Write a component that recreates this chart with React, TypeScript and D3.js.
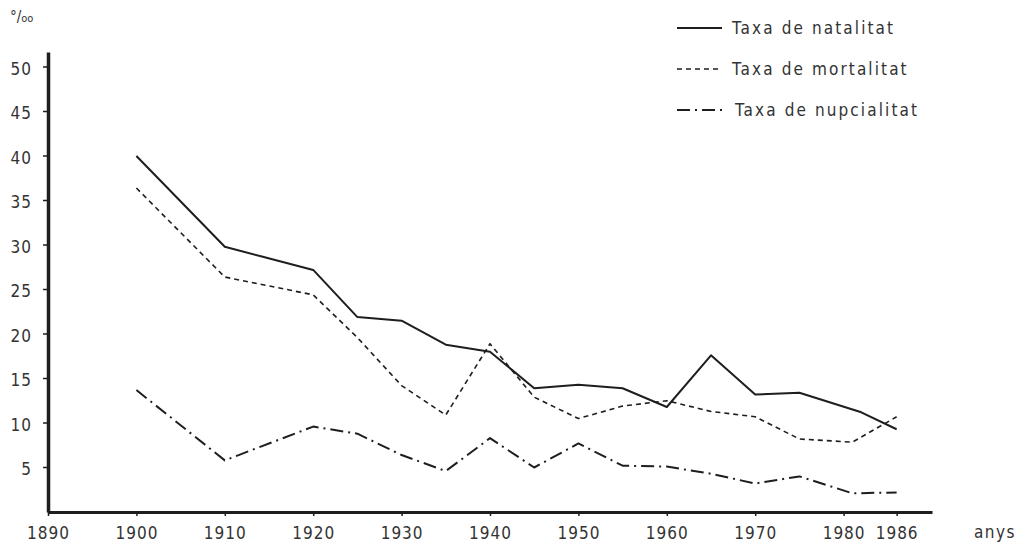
import React, { useRef, useEffect } from 'react';
import * as d3 from 'd3';

// Taxes demogràfiques (per mil), llegides del gràfic original
const natalitatAnys = [1900, 1910, 1920, 1925, 1930, 1935, 1940, 1945, 1950, 1955, 1960, 1965, 1970, 1975, 1982, 1986];
const natalitat = [40.0, 29.8, 27.2, 21.9, 21.5, 18.8, 18.0, 13.9, 14.3, 13.9, 11.8, 17.6, 13.2, 13.4, 11.2, 9.3];

const mortalitatAnys = [1900, 1910, 1920, 1925, 1930, 1935, 1940, 1945, 1950, 1955, 1960, 1965, 1970, 1975, 1981, 1986];
const mortalitat = [36.4, 26.4, 24.4, 19.6, 14.2, 10.9, 18.9, 12.9, 10.5, 11.9, 12.5, 11.3, 10.7, 8.2, 7.85, 10.7];

const nupcialitatAnys = [1900, 1910, 1920, 1925, 1930, 1935, 1940, 1945, 1950, 1955, 1960, 1965, 1970, 1975, 1981, 1986];
const nupcialitat = [13.7, 5.8, 9.6, 8.8, 6.4, 4.6, 8.3, 5.0, 7.7, 5.2, 5.1, 4.3, 3.2, 4.0, 2.1, 2.2];

const xTicks = [1890, 1900, 1910, 1920, 1930, 1940, 1950, 1960, 1970, 1980, 1986];
const yTicks = [5, 10, 15, 20, 25, 30, 35, 40, 45, 50];

const legendLabels = ['Taxa de natalitat', 'Taxa de mortalitat', 'Taxa de nupcialitat'];

const WIDTH = 1022;
const HEIGHT = 549;
const FONT = '"DejaVu Sans Condensed", "DejaVu Sans", sans-serif';
const INK = '#1e1e1e';
const TEXT = '#333';

const App: React.FC = () => {
    const svgRef = useRef<SVGSVGElement>(null);

    useEffect(() => {
        const svg = d3.select(svgRef.current);
        svg.selectAll('*').remove();

        const x = d3.scaleLinear().domain([1890, 1990]).range([48, 932]);
        const y = d3.scaleLinear().domain([0, 50]).range([512, 67]);

        // x axis
        const xAxis = svg.append('g')
            .attr('transform', `translate(0,${y(0)})`)
            .call(d3.axisBottom(x).tickValues(xTicks).tickFormat(d3.format('d')).tickSize(4).tickSizeOuter(0).tickPadding(11));
        xAxis.select('.domain').attr('stroke', INK).attr('stroke-width', 3);

        // y axis, goes a bit over 50
        const yAxis = svg.append('g')
            .attr('transform', `translate(${x(1890)},0)`)
            .call(d3.axisLeft(y.copy().domain([0, 51.7]).range([512, 52])).tickValues([]).tickSizeOuter(0));
        yAxis.select('.domain').attr('stroke', INK).attr('stroke-width', 3.5);
        yAxis.call((g) => {
            const t = g.selectAll('.ytick').data(yTicks).enter().append('g')
                .attr('class', 'ytick')
                .attr('transform', (d) => `translate(0,${y(d)})`);
            t.append('line').attr('x1', -5).attr('x2', 0).attr('stroke', INK).attr('stroke-width', 1.5);
            t.append('text')
                .attr('x', -16)
                .attr('dy', '0.45em')
                .attr('text-anchor', 'end')
                .text((d) => d);
        });

        svg.selectAll('.tick line').attr('stroke', INK).attr('stroke-width', 1.5);
        svg.selectAll('text')
            .attr('font-family', FONT)
            .attr('font-size', 17)
            .attr('letter-spacing', 1)
            .attr('fill', TEXT);

        // series lines
        const line = d3.line<[number, number]>()
            .x((d) => x(d[0]))
            .y((d) => y(d[1]));

        const series = [
            { years: natalitatAnys, values: natalitat, dash: null, width: 2 },
            { years: mortalitatAnys, values: mortalitat, dash: '5,4', width: 1.6 },
            { years: nupcialitatAnys, values: nupcialitat, dash: '13,5,2,5', width: 2 },
        ];

        series.forEach((s) => {
            const pts: [number, number][] = s.years.map((yr, i) => [yr, s.values[i]]);
            svg.append('path')
                .datum(pts)
                .attr('fill', 'none')
                .attr('stroke', INK)
                .attr('stroke-width', s.width)
                .attr('stroke-linejoin', 'round')
                .attr('stroke-dasharray', s.dash)
                .attr('d', line);
        });

        // legend
        const legend = svg.append('g').attr('transform', 'translate(677,28)');
        legendLabels.forEach((label, i) => {
            const row = legend.append('g').attr('transform', `translate(0,${i * 41})`);
            row.append('line')
                .attr('x1', 0).attr('x2', 45)
                .attr('stroke', INK)
                .attr('stroke-width', series[i].width)
                .attr('stroke-dasharray', series[i].dash);
            row.append('text')
                .attr('x', i === 2 ? 58 : 55)
                .attr('dy', '0.35em')
                .attr('font-family', FONT)
                .attr('font-size', 17)
                .attr('letter-spacing', 2.1)
                .attr('fill', TEXT)
                .text(label);
        });

        // per mil label
        const pm = svg.append('text')
            .attr('x', 10)
            .attr('y', 22)
            .attr('font-family', FONT)
            .attr('font-size', 15)
            .attr('fill', TEXT);
        pm.append('tspan').text('°/');
        pm.append('tspan').attr('font-size', 11).text('oo');

        svg.append('text')
            .attr('x', 974)
            .attr('y', 538)
            .attr('font-family', FONT)
            .attr('font-size', 17)
            .attr('letter-spacing', 1.5)
            .attr('fill', TEXT)
            .text('anys');
    }, []);

    return (
        <svg
            ref={svgRef}
            width={WIDTH}
            height={HEIGHT}
            style={{ position: 'absolute', left: 0, top: 0, background: '#fff' }}
        />
    );
};

export default App;
